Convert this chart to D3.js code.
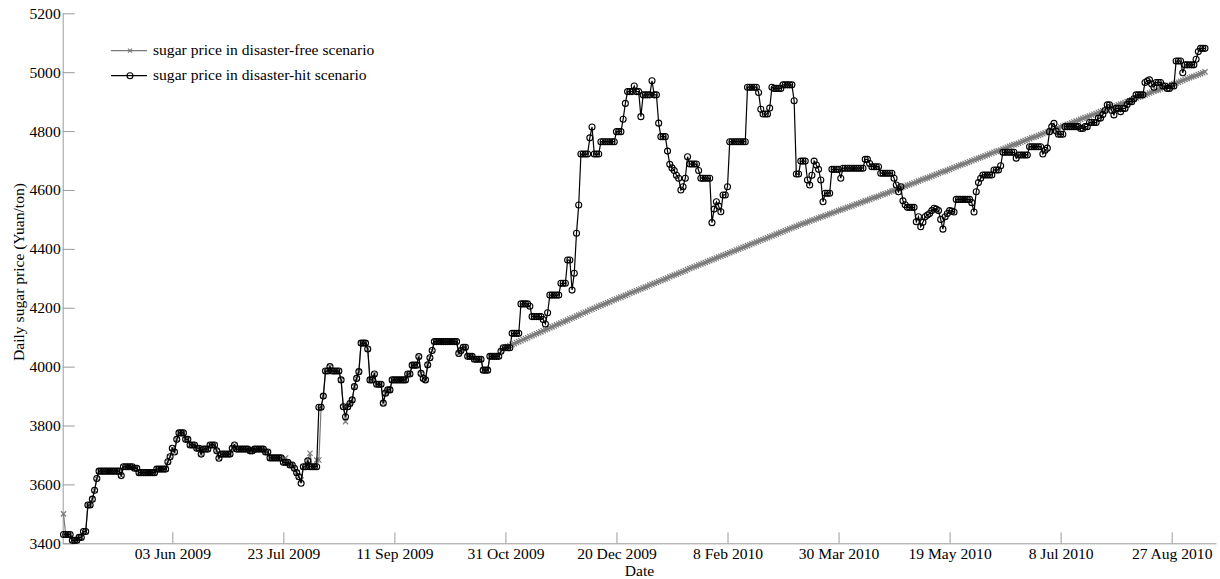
<!DOCTYPE html>
<html><head><meta charset="utf-8">
<script src="https://cdn.jsdelivr.net/npm/d3@7"></script>
<style>
html,body{margin:0;padding:0;background:#fff;}
svg{display:block;}
</style></head><body>
<svg id="chart" width="1220" height="579"></svg>
<script>
// ---------------- DATA ----------------
const firstDate = "2009-04-15"; // daily observations start here
const hitPrice = [
3430,3430,3430,3430,3410,3410,3410,3420,3420,3440,
3440,3530,3530,3550,3580,3620,3645,3645,3645,3645,
3645,3645,3645,3645,3645,3645,3630,3660,3660,3660,
3660,3660,3655,3655,3640,3640,3640,3640,3640,3640,
3640,3640,3652,3652,3652,3652,3652,3677,3694,3723,
3710,3753,3775,3775,3775,3753,3753,3734,3734,3734,
3723,3723,3703,3720,3720,3720,3734,3734,3734,3714,
3689,3703,3703,3703,3703,3703,3723,3734,3720,3720,
3720,3720,3720,3720,3714,3714,3720,3720,3720,3720,
3720,3710,3710,3690,3690,3690,3690,3690,3690,3675,
3675,3675,3666,3666,3655,3640,3626,3604,3660,3660,
3680,3660,3660,3660,3660,3862,3862,3900,3985,3985,
4000,3985,3985,3985,3985,3955,3864,3830,3864,3875,
3887,3932,3960,3983,4080,4080,4080,4060,3955,3955,
3975,3940,3940,3940,3876,3910,3921,3921,3955,3955,
3955,3955,3955,3955,3955,3975,3975,4005,4005,4005,
4034,3977,3960,3955,4006,4030,4055,4085,4085,4085,
4085,4085,4085,4085,4085,4085,4085,4085,4045,4055,
4066,4066,4035,4035,4035,4025,4025,4025,4025,3988,
3988,3988,4035,4035,4035,4035,4035,4052,4064,4064,
4064,4064,4113,4113,4113,4113,4213,4213,4213,4213,
4205,4170,4170,4170,4170,4170,4160,4145,4183,4243,
4243,4243,4243,4243,4283,4283,4283,4362,4362,4260,
4317,4453,4549,4722,4722,4722,4722,4777,4814,4722,
4722,4722,4764,4764,4764,4764,4764,4764,4764,4798,
4798,4798,4840,4894,4934,4934,4934,4953,4934,4934,
4849,4923,4923,4923,4923,4971,4923,4923,4827,4781,
4781,4781,4732,4687,4675,4666,4650,4640,4600,4611,
4640,4713,4688,4688,4688,4688,4666,4640,4640,4640,
4640,4640,4489,4535,4560,4545,4526,4583,4583,4611,
4764,4764,4764,4764,4764,4764,4764,4764,4949,4949,
4949,4949,4949,4931,4874,4858,4858,4858,4878,4949,
4945,4945,4945,4945,4957,4957,4957,4957,4957,4903,
4654,4654,4698,4698,4698,4634,4617,4650,4698,4685,
4670,4634,4560,4589,4589,4589,4670,4670,4670,4670,
4640,4674,4674,4674,4674,4674,4674,4674,4674,4674,
4674,4704,4704,4690,4679,4679,4679,4679,4657,4657,
4657,4657,4657,4657,4640,4617,4594,4611,4563,4550,
4541,4541,4541,4541,4492,4509,4475,4490,4509,4515,
4520,4530,4538,4535,4530,4500,4467,4509,4520,4530,
4528,4525,4568,4568,4568,4568,4568,4568,4568,4557,
4525,4594,4625,4640,4651,4651,4651,4651,4651,4668,
4668,4668,4682,4728,4728,4728,4728,4728,4728,4708,
4719,4719,4719,4719,4719,4747,4747,4747,4747,4747,
4747,4722,4735,4742,4798,4815,4826,4800,4789,4789,
4789,4815,4815,4815,4815,4815,4815,4815,4809,4809,
4815,4815,4829,4829,4829,4829,4844,4844,4856,4870,
4889,4889,4870,4855,4877,4877,4866,4877,4877,4890,
4900,4900,4910,4923,4923,4923,4923,4965,4970,4974,
4960,4949,4965,4965,4965,4953,4953,4945,4945,4953,
4953,5038,5038,5038,4998,5025,5025,5025,5025,5025,
5044,5070,5081,5081,5081
];
// disaster-free scenario: same as disaster-hit before the disaster except these days [dayIndex, price]
const freeEarlyDiffs = [[0,3500],[100,3690],[107,3615],[111,3706],[114,3683],[115,3683],[127,3813]];
// disaster-free scenario from day 200 onward
const freeTrendStart = 200;
const freeTrend = [
4068,4071,4075,4078,4082,4085,4088,4092,4095,4098,
4102,4105,4108,4112,4115,4118,4122,4125,4128,4132,
4135,4138,4142,4145,4148,4152,4155,4158,4162,4165,
4168,4172,4175,4178,4182,4185,4188,4192,4195,4198,
4202,4205,4208,4211,4214,4217,4220,4224,4227,4230,
4233,4236,4239,4242,4245,4249,4252,4255,4258,4261,
4264,4267,4270,4273,4277,4280,4283,4286,4289,4292,
4295,4298,4301,4305,4308,4311,4314,4317,4320,4323,
4326,4330,4333,4336,4339,4342,4345,4348,4351,4354,
4357,4360,4363,4366,4369,4372,4375,4378,4381,4384,
4387,4390,4393,4396,4399,4402,4405,4408,4411,4414,
4417,4420,4423,4426,4429,4432,4435,4438,4441,4444,
4447,4450,4453,4456,4459,4462,4465,4468,4471,4474,
4477,4480,4483,4486,4488,4491,4494,4497,4499,4502,
4505,4508,4510,4513,4516,4519,4521,4524,4527,4530,
4532,4535,4538,4541,4543,4546,4549,4552,4554,4557,
4560,4563,4565,4568,4571,4574,4576,4579,4582,4585,
4587,4590,4593,4596,4598,4601,4604,4607,4610,4613,
4616,4618,4621,4624,4627,4630,4633,4636,4639,4641,
4644,4647,4650,4653,4656,4659,4662,4664,4667,4670,
4673,4676,4679,4682,4685,4687,4690,4693,4696,4699,
4702,4705,4708,4710,4713,4716,4719,4722,4725,4728,
4731,4733,4736,4739,4742,4745,4748,4751,4754,4756,
4759,4762,4765,4768,4771,4774,4777,4779,4782,4785,
4788,4791,4794,4797,4800,4802,4805,4808,4811,4814,
4817,4820,4823,4825,4828,4831,4834,4837,4840,4843,
4846,4848,4851,4854,4857,4860,4863,4866,4869,4871,
4874,4877,4880,4883,4886,4889,4892,4894,4897,4900,
4903,4906,4909,4912,4915,4917,4920,4923,4926,4929,
4932,4935,4938,4940,4943,4946,4949,4952,4955,4958,
4961,4963,4966,4969,4972,4975,4978,4981,4984,4986,
4989,4992,4995,4998,5001
];
const yTicks = [3400,3600,3800,4000,4200,4400,4600,4800,5000,5200];
const xTickDates = ["2009-06-03","2009-07-23","2009-09-11","2009-10-31","2009-12-20","2010-02-08","2010-03-30","2010-05-19","2010-07-08","2010-08-27"];
const xTickLabels = ["03 Jun 2009","23 Jul 2009","11 Sep 2009","31 Oct 2009","20 Dec 2009","8 Feb 2010","30 Mar 2010","19 May 2010","8 Jul 2010","27 Aug 2010"];
const seriesNames = ["sugar price in disaster-free scenario","sugar price in disaster-hit scenario"];
const axisTitles = {x:"Date", y:"Daily sugar price (Yuan/ton)"};

// ---------------- BUILD TABLES ----------------
const parse = d3.utcParse("%Y-%m-%d");
const t0 = parse(firstDate);
const dayMs = 86400000;
const hitData = hitPrice.map((v,i)=>({date:new Date(+t0+i*dayMs), v}));
const freeVals = hitPrice.slice(0, freeTrendStart);
freeEarlyDiffs.forEach(([i,v])=>{freeVals[i]=v;});
const freeAll = freeVals.concat(freeTrend);
const freeData = freeAll.map((v,i)=>({date:new Date(+t0+i*dayMs), v}));

// ---------------- DRAW ----------------
const FONT = '"Liberation Serif","Times New Roman",Times,serif';
const FS = "15.6px";
const AXIS_COL = "#9a9a9a";
const FREE_COL = "#7a7a7a";
const svg = d3.select("#chart");
svg.append("rect").attr("width",1220).attr("height",579).attr("fill","#fff");

const x = d3.scaleUtc()
  .domain([new Date(Date.UTC(2009,3,14,15,30)), new Date(Date.UTC(2010,8,15,23,0))])
  .range([62.7, 1216]);
const y = d3.scaleLinear().domain([3400,5200]).range([543.3, 13.3]);

const gx = svg.append("g").attr("transform","translate(0,543.3)")
  .call(d3.axisBottom(x).tickValues(xTickDates.map(parse))
    .tickFormat((d,i)=>xTickLabels[i]).tickSizeInner(-11).tickSizeOuter(0).tickPadding(5));
const gy = svg.append("g").attr("transform","translate(62.7,0)")
  .call(d3.axisLeft(y).tickValues(yTicks).tickFormat(d3.format("d"))
    .tickSizeInner(-12).tickSizeOuter(0).tickPadding(2));
[gx,gy].forEach(g=>{
  g.attr("font-family",FONT).attr("font-size",FS);
  g.selectAll("path.domain,line").attr("stroke",AXIS_COL);
  g.selectAll("text").attr("fill","#000");
});

svg.append("text").attr("x",639.5).attr("y",576).attr("text-anchor","middle")
  .attr("font-family",FONT).attr("font-size",FS).text(axisTitles.x);
svg.append("text").attr("transform","translate(24,272) rotate(-90)").attr("text-anchor","middle")
  .attr("font-family",FONT).attr("font-size",FS).text(axisTitles.y);

const line = d3.line().x(d=>x(d.date)).y(d=>y(d.v));
const xMark = "M-2.6,-2.6L2.6,2.6M-2.6,2.6L2.6,-2.6";

// disaster-free series
svg.append("path").datum(freeData).attr("d",line).attr("fill","none")
  .attr("stroke",FREE_COL).attr("stroke-width",1.2);
svg.append("g").selectAll("path").data(freeData).join("path")
  .attr("transform",d=>`translate(${x(d.date)},${y(d.v)})`).attr("d",xMark)
  .attr("fill","none").attr("stroke",FREE_COL).attr("stroke-width",1.2);

// disaster-hit series
svg.append("path").datum(hitData).attr("d",line).attr("fill","none")
  .attr("stroke","#000").attr("stroke-width",1.2);
svg.append("g").selectAll("circle").data(hitData).join("circle")
  .attr("cx",d=>x(d.date)).attr("cy",d=>y(d.v)).attr("r",3)
  .attr("fill","none").attr("stroke","#000").attr("stroke-width",1.1);

// legend
const leg = svg.append("g");
const rows = [{y:50.7,col:FREE_COL,mark:"x"},{y:75.7,col:"#000",mark:"o"}];
rows.forEach((r,i)=>{
  leg.append("line").attr("x1",111).attr("x2",147).attr("y1",r.y).attr("y2",r.y)
    .attr("stroke",r.col).attr("stroke-width",1.2);
  if(r.mark==="x"){
    leg.append("path").attr("transform",`translate(130,${r.y})`).attr("d","M-2,-2L2,2M-2,2L2,-2")
      .attr("fill","none").attr("stroke",r.col).attr("stroke-width",1.2);
  } else {
    leg.append("circle").attr("cx",130).attr("cy",r.y).attr("r",3)
      .attr("fill","none").attr("stroke",r.col).attr("stroke-width",1.1);
  }
  leg.append("text").attr("x",153).attr("y",r.y+4.5).attr("font-family",FONT).attr("font-size",FS)
    .text(seriesNames[i]);
});
</script>
</body></html>
